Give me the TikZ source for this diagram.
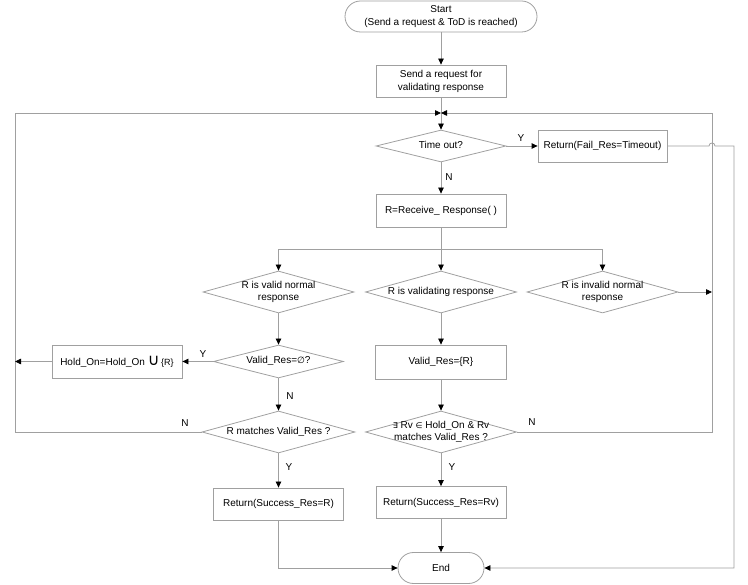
\documentclass[tikz,border=0pt]{standalone}
\usepackage{fontspec}
\setmainfont{Liberation Sans}
\newfontfamily\dejavu{DejaVu Sans}
\usetikzlibrary{shapes.geometric,arrows.meta}
\definecolor{lc}{RGB}{160,160,160}
\newcommand\dtxt[1]{\makebox[0pt]{\begin{tabular}{@{}c@{}}#1\end{tabular}}}
\begin{document}
\begin{tikzpicture}[x=1pt,y=-1pt,
  font=\fontsize{10}{12}\selectfont,
  line/.style={draw=lc, line width=0.8pt},
  arr/.style={line, -{Triangle[length=6pt,width=5.5pt,color=black]}},
  box/.style={draw=lc, line width=0.8pt, rectangle, minimum width=130pt, minimum height=32pt, inner sep=0pt},
  dia/.style={draw=lc, line width=0.8pt, diamond, minimum width=151pt, minimum height=42pt, inner sep=0pt},
  term/.style={draw=lc, line width=0.8pt, rectangle, rounded corners=15.5pt, minimum height=31pt, inner sep=0pt},
  lab/.style={inner sep=0pt}
]
\useasboundingbox (0,0) rectangle (748,585);

% nodes
\node[term, minimum width=192pt, align=center] (start) at (441,16.5) {Start\\[1pt](Send a request \& ToD is reached)};
\node[box, align=center] (send) at (441,81) {Send a request for\\[1pt]validating response};
\node[dia, minimum width=130pt, minimum height=32pt] (timeout) at (441,146) {\dtxt{Time out?}};
\node[box, minimum width=129pt] (fail) at (602.5,146) {Return(Fail\_Res=Timeout)};
\node[box, minimum height=33pt] (recv) at (441,210.5) {R=Receive\_ Response( )};
\node[dia] (d1) at (278.5,292) {\dtxt{R is valid normal\\response}};
\node[dia] (d2) at (441,292) {\dtxt{R is validating response}};
\node[dia] (d3) at (602.5,292) {\dtxt{R is invalid normal\\response}};
\node[dia, minimum width=130pt, minimum height=33pt] (empty) at (278.5,361.5) {\dtxt{Valid\_Res={\dejavu\fontsize{9}{10}\selectfont ∅}?}};
\node[box, minimum height=33pt] (hold) at (117,361.5) {Hold\_On=Hold\_On {\dejavu\fontsize{16}{16}\selectfont ∪}\,{\fontsize{9}{10}\selectfont\{R\}}};
\node[box, minimum width=131pt, minimum height=34pt] (setv) at (441,362) {Valid\_Res=\{R\}};
\node[dia, minimum width=153pt] (m1) at (278.5,432) {\dtxt{R matches Valid\_Res ?}};
\node[dia] (m2) at (441,432) {\dtxt{{\dejavu\fontsize{8}{10}\selectfont ∃} Rv {\dejavu\fontsize{8}{10}\selectfont ∈} Hold\_On \& Rv\\matches Valid\_Res ?}};
\node[box] (s1) at (278.5,504) {Return(Success\_Res=R)};
\node[box] (s2) at (441,502.5) {Return(Success\_Res=Rv)};
\node[term, minimum width=86pt] (end) at (441,568) {End};

% helper coordinates
\coordinate (merge) at (441,113);
\coordinate (split) at (441,249);
\coordinate (ll) at (15,432);
\coordinate (lu) at (15,113);
\coordinate (rl) at (712,432);
\coordinate (ru) at (712,113);
\coordinate (hop) at (712,146);
\coordinate (fr) at (734,146);
\coordinate (fb) at (734,568);

% labels
\node[lab] (yfail) at (521,138) {Y};
\node[lab] (ntime) at (449,177) {N};
\node[lab] (yhold) at (203,354) {Y};
\node[lab] (nempty) at (290,396) {N};
\node[lab] (nm1) at (185,423) {N};
\node[lab] (nm2) at (532,422) {N};
\node[lab] (ym1) at (289,467) {Y};
\node[lab] (ym2) at (452,467) {Y};

% connectors
\draw[arr] (start.south) -- (send.north);
\draw[line] (send.south) -- (merge);
\draw[arr] (merge) -- (timeout.north);
\draw[arr] (m1.west) -- (ll) -- (lu) -- (merge);
\draw[arr] (m2.east) -- (rl) -- (ru) -- (merge);
\draw[arr] (timeout.east) -- (fail.west);
\draw[arr] (fail.east) -- ([xshift=-3pt]hop) .. controls ([xshift=-3pt,yshift=4pt]hop) and ([xshift=3pt,yshift=4pt]hop) .. ([xshift=3pt]hop) -- (fr) -- (fb) -- (end.east);
\draw[arr] (timeout.south) -- (recv.north);
\draw[line] (recv.south) -- (split);
\draw[arr] (split) -- (d2.north);
\draw[arr] (split) -| (d1.north);
\draw[arr] (split) -| (d3.north);
\draw[arr] (d3.east) -- (d3.east -| rl);
\draw[arr] (d1.south) -- (empty.north);
\draw[arr] (empty.west) -- (hold.east);
\draw[arr] (hold.west) -- (hold.west -| lu);
\draw[arr] (empty.south) -- (m1.north);
\draw[arr] (m1.south) -- (s1.north);
\draw[arr] (s1.south) |- (end.west);
\draw[arr] (d2.south) -- (setv.north);
\draw[arr] (setv.south) -- (m2.north);
\draw[arr] (m2.south) -- (s2.north);
\draw[arr] (s2.south) -- (end.north);
\end{tikzpicture}
\end{document}
